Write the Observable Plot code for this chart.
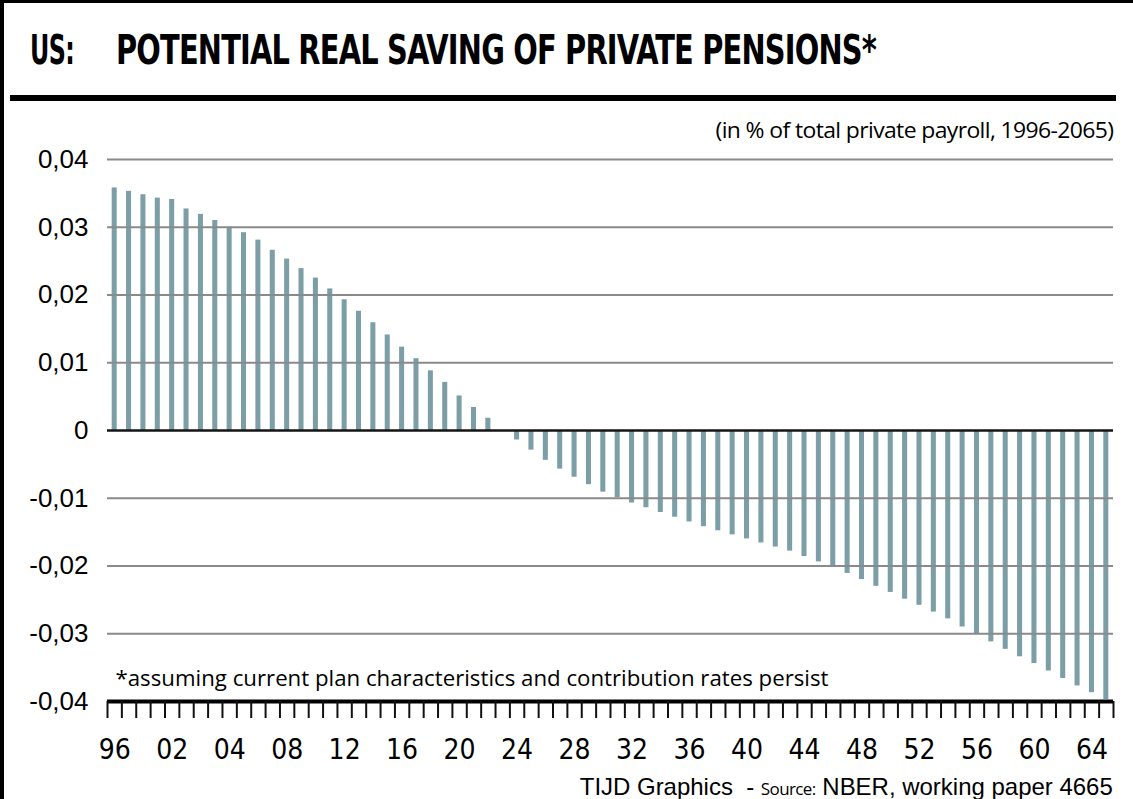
<!DOCTYPE html>
<html>
<head>
<meta charset="utf-8">
<script src="https://cdn.jsdelivr.net/npm/d3@7"></script>
<script src="https://cdn.jsdelivr.net/npm/@observablehq/plot@0.6"></script>
<style>
  html, body { margin: 0; padding: 0; background: #fff; }
  body { width: 1133px; height: 799px; overflow: hidden; position: relative; font-family: "Liberation Sans", Arial, sans-serif; color: #000; }
  #frame { position: absolute; left: 0; top: 0; width: 1133px; height: 799px; border-left: 4px solid #000; border-top: 3px solid #000; box-sizing: border-box; pointer-events: none; }
  .abs { position: absolute; white-space: pre; line-height: 1; }
  .title { font-family: "Liberation Sans Narrow", "DejaVu Sans Condensed", "Liberation Sans", sans-serif; font-weight: 700; font-size: 40px; top: 30px; letter-spacing: -1px; }
  #title-us { left: 30px; }
  #title-main { left: 116px; }
  #rule { position: absolute; left: 10px; top: 95px; width: 1106px; height: 6px; background: #000; }
  #subtitle { right: 20px; top: 118px; font-family: "Open Sans", "Liberation Sans", sans-serif; font-size: 22px; letter-spacing: -0.6px; }
  #chart { position: absolute; left: 0; top: 145px; }
  #footer { right: 20px; top: 775px; font-family: "Liberation Sans Narrow", "Liberation Sans", sans-serif; font-size: 24px; }
  #footer .src { font-family: "Open Sans", "Liberation Sans", sans-serif; font-size: 17px; letter-spacing: -0.6px; }
</style>
</head>
<body>
<div id="chart"></div>
<div id="title-us" class="abs title">US:</div>
<div id="title-main" class="abs title">POTENTIAL REAL SAVING OF PRIVATE PENSIONS*</div>
<div id="rule"></div>
<div id="subtitle" class="abs">(in % of total private payroll, 1996-2065)</div>
<div id="footer" class="abs"><span>TIJD Graphics </span><span> - </span><span class="src">Source:</span><span> NBER, working paper 4665</span></div>
<div id="frame"></div>
<script>
// ---- data ----
const years = [
  1996, 1997, 1998, 1999, 2000, 2001, 2002, 2003, 2004, 2005,
  2006, 2007, 2008, 2009, 2010, 2011, 2012, 2013, 2014, 2015,
  2016, 2017, 2018, 2019, 2020, 2021, 2022, 2023, 2024, 2025,
  2026, 2027, 2028, 2029, 2030, 2031, 2032, 2033, 2034, 2035,
  2036, 2037, 2038, 2039, 2040, 2041, 2042, 2043, 2044, 2045,
  2046, 2047, 2048, 2049, 2050, 2051, 2052, 2053, 2054, 2055,
  2056, 2057, 2058, 2059, 2060, 2061, 2062, 2063, 2064, 2065
];
const saving = [
  0.0358, 0.0353, 0.0348, 0.0343, 0.0341, 0.0327, 0.0319, 0.0310, 0.0300, 0.0292,
  0.0281, 0.0266, 0.0253, 0.0239, 0.0225, 0.0209, 0.0193, 0.0176, 0.0159, 0.0141,
  0.0123, 0.0106, 0.0088, 0.0071, 0.0051, 0.0034, 0.0018, 0.0000, -0.0014, -0.0029,
  -0.0044, -0.0057, -0.0069, -0.0080, -0.0091, -0.0099, -0.0107, -0.0114, -0.0121, -0.0128,
  -0.0135, -0.0142, -0.0148, -0.0154, -0.0160, -0.0166, -0.0172, -0.0178, -0.0186, -0.0194,
  -0.0201, -0.0211, -0.0220, -0.0230, -0.0239, -0.0249, -0.0258, -0.0268, -0.0278, -0.0290,
  -0.0301, -0.0312, -0.0323, -0.0334, -0.0344, -0.0355, -0.0366, -0.0377, -0.0387, -0.0397
];
const yTicks = [0.04, 0.03, 0.02, 0.01, 0, -0.01, -0.02, -0.03, -0.04];
const gridValues = [0.04, 0.03, 0.02, 0.01, -0.01, -0.02, -0.03];
const labelYears = [1996, 2000, 2004, 2008, 2012, 2016, 2020, 2024, 2028, 2032, 2036, 2040, 2044, 2048, 2052, 2056, 2060, 2064];
const labelTexts = ["96", "02", "04", "08", "12", "16", "20", "24", "28", "32", "36", "40", "44", "48", "52", "56", "60", "64"];
const footnote = "*assuming current plan characteristics and contribution rates persist";

// ---- derived tables ----
const data = years.map((year, i) => ({year, value: saving[i]}));
const boundaries = years.map(y => y - 0.5).concat([years[years.length - 1] + 0.5]);
const labelMap = new Map(labelYears.map((y, i) => [y, labelTexts[i]]));
const fmtY = d => d === 0 ? "0" : d.toFixed(2).replace(".", ",");

const barColor = "#7b9ea7";
const narrow = '"Liberation Sans Narrow", "DejaVu Sans Condensed", "Liberation Sans", sans-serif';

const chart = Plot.plot({
  width: 1133,
  height: 625,
  marginLeft: 107,
  marginRight: 20,
  marginTop: 14,
  marginBottom: 69,
  x: {domain: [boundaries[0], boundaries[boundaries.length - 1]], label: null},
  y: {domain: [-0.04, 0.04], label: null},
  style: {background: "transparent", color: "#000", fontFamily: '"Liberation Sans", Arial, sans-serif', overflow: "visible"},
  marks: [
    Plot.rectY(data, {x1: d => d.year - 0.175, x2: d => d.year + 0.175, y1: 0, y2: "value", fill: barColor}),
    Plot.ruleY(gridValues, {stroke: "#8a8a8a", strokeWidth: 2}),
    Plot.ruleY([0], {stroke: "#151515", strokeWidth: 2.5}),
    Plot.ruleY([-0.04], {stroke: "#000", strokeWidth: 4}),
    Plot.axisY({ticks: yTicks, tickSize: 0, tickPadding: 19, tickFormat: fmtY, fontSize: 26, label: null}),
    Plot.axisX({ticks: boundaries, tickSize: 17, tickFormat: () => "", strokeWidth: 2, stroke: "#111", label: null}),
    Plot.axisX({ticks: labelYears, tickSize: 0, tickPadding: 38, tickFormat: d => labelMap.get(d), fontSize: 28, fontFamily: narrow, label: null}),
    Plot.text([footnote], {frameAnchor: "bottom-left", textAnchor: "start", lineAnchor: "bottom", dx: 8, dy: -16, fontSize: 22, fontFamily: '"Open Sans", "Liberation Sans", sans-serif'})
  ]
});
document.getElementById("chart").appendChild(chart);

// stretch/compress texts to the reference widths
d3.select(chart).selectAll("text").filter(function() { return this.textContent === footnote; })
  .attr("textLength", 713).attr("lengthAdjust", "spacingAndGlyphs");

function fit(id, w, origin) {
  const el = document.getElementById(id);
  const r = el.getBoundingClientRect().width;
  el.style.transformOrigin = origin;
  el.style.transform = `scaleX(${w / r})`;
}
fit("title-us", 44, "left");
fit("title-main", 760, "left");
fit("subtitle", 398, "right");
fit("footer", 533, "right");
</script>
</body>
</html>
